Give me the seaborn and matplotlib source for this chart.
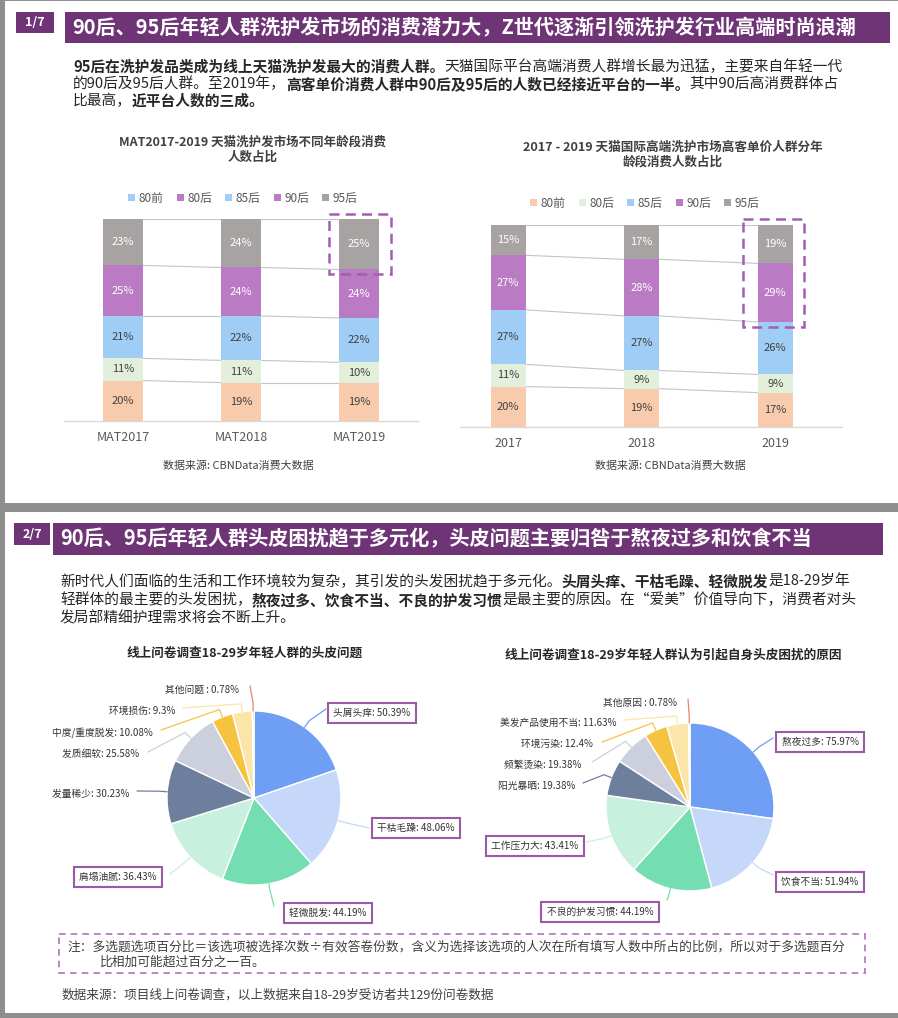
import numpy as np
import pandas as pd
import matplotlib
matplotlib.use("Agg")
import matplotlib.pyplot as plt
import seaborn as sns
from matplotlib.patches import Rectangle, Patch

# ---- data -------------------------------------------------------------
AGE_GROUPS = ["80前", "80后", "85后", "90后", "95后"]          # bottom -> top
MAT_YEARS = ["MAT2017", "MAT2018", "MAT2019"]
MAT_SHARE = [[20, 19, 19],      # 80前
             [11, 11, 10],      # 80后
             [21, 22, 22],      # 85后
             [25, 24, 24],      # 90后
             [23, 24, 25]]      # 95后
HI_YEARS = ["2017", "2018", "2019"]
HI_SHARE = [[20, 19, 17],
            [11, 9, 9],
            [27, 27, 26],
            [27, 28, 29],
            [15, 17, 19]]

SCALP_ISSUES = ["头屑头痒", "干枯毛躁", "轻微脱发", "肩塌油腻", "发量稀少",
                "发质细软", "中度/重度脱发", "环境损伤", "其他问题 "]
SCALP_PCT = [50.39, 48.06, 44.19, 36.43, 30.23, 25.58, 10.08, 9.3, 0.78]
CAUSES = ["熬夜过多", "饮食不当", "不良的护发习惯", "工作压力大", "阳光暴晒",
          "频繁烫染", "环境污染", "美发产品使用不当", "其他原因 "]
CAUSE_PCT = [75.97, 51.94, 44.19, 43.41, 19.38, 19.38, 12.4, 11.63, 0.78]

# ---- style ------------------------------------------------------------
W, H = 898, 1018
PURPLE = "#6e3476"
BOX_EDGE = "#9b5aa8"
DASH = "#a45db0"
BAR_COLORS = ["#f8cbad", "#e2efda", "#a0cdf6", "#ba7bc4", "#a8a3a3"]
LEFT_LEGEND_COLORS = ["#a0cdf6", "#ba7bc4", "#a0cdf6", "#ba7bc4", "#a8a3a3"]
PIE_COLORS = ["#6f9ef5", "#c5d8fa", "#74ddb2", "#c8f0df", "#6e7f9e",
              "#cbd0dc", "#f5c33f", "#fce5a8", "#e8846a"]

sns.set_theme(style="white")
plt.rcParams["font.family"] = ["Noto Sans CJK SC", "DejaVu Sans"]
plt.rcParams["axes.unicode_minus"] = False

fig = plt.figure(figsize=(W / 100, H / 100), dpi=100)
fig.patch.set_facecolor("#8e8e8e")
R = fig.canvas.get_renderer()


def px_axes(x, y, w, h):
    return fig.add_axes([x / W, 1 - (y + h) / H, w / W, h / H])


bg = px_axes(0, 0, W, H)
bg.set_xlim(0, W); bg.set_ylim(H, 0); bg.axis("off"); bg.set_zorder(0)
ov = px_axes(0, 0, W, H)
ov.set_xlim(0, W); ov.set_ylim(H, 0); ov.axis("off"); ov.set_zorder(5)

# pages
bg.add_patch(Rectangle((5, 1), W + 5, 502, fc="white", ec="none", clip_on=False))
bg.add_patch(Rectangle((5, 512), W + 5, 501, fc="white", ec="none", clip_on=False))


def runs(x, y, parts, size, color="#262626", width=None):
    """draw a line of (text, bold) runs; optionally fit to a pixel width"""
    def measure(sz):
        tot = 0
        for s, b in parts:
            t = ov.text(0, 0, s, fontsize=sz, fontweight="bold" if b else "normal")
            tot += t.get_window_extent(R).width
            t.remove()
        return tot
    if width:
        size = size * width / measure(size)
    cx = x
    for s, b in parts:
        t = ov.text(cx, y, s, fontsize=size, fontweight="bold" if b else "normal",
                    color=color, ha="left", va="center")
        cx += t.get_window_extent(R).width
    return size


def header(tag, tag_box, bar, text, text_x, text_w):
    bx, by, bw, bh = tag_box
    ov.add_patch(Rectangle((bx, by), bw, bh, fc=PURPLE, ec="none"))
    ov.text(bx + bw / 2, by + bh / 2, tag, color="white", fontsize=9,
            fontweight="bold", ha="center", va="center")
    x, y, w, h = bar
    ov.add_patch(Rectangle((x, y), w, h, fc=PURPLE, ec="none"))
    runs(text_x, y + h / 2, [(text, True)], 14, color="white", width=text_w)


def centered_fit(x, y, text, size, width, color="#404040", bold=False):
    t = ov.text(0, 0, text, fontsize=size, fontweight="bold" if bold else "normal")
    size = size * width / t.get_window_extent(R).width
    t.remove()
    ov.text(x, y, text, fontsize=size, fontweight="bold" if bold else "normal",
            color=color, ha="center", va="center")


# ---- slide 1 ----------------------------------------------------------
header("1/7", (16, 12, 38, 21), (65, 12, 825, 31),
       "90后、95后年轻人群洗护发市场的消费潜力大，Z世代逐渐引领洗护发行业高端时尚浪潮", 72, 785)

PARA1 = [
    [("95后在洗护发品类成为线上天猫洗护发最大的消费人群。", True),
     ("天猫国际平台高端消费人群增长最为迅猛，主要来自年轻一代", False)],
    [("的90后及95后人群。至2019年，", False),
     ("高客单价消费人群中90后及95后的人数已经接近平台的一半。", True),
     ("其中90后高消费群体占", False)],
    [("比最高，", False), ("近平台人数的三成。", True)],
]
s1 = runs(73, 67, PARA1[0], 10, width=768)
runs(73, 84, PARA1[1], 10, width=764)
runs(73, 101, PARA1[2], s1)


def stacked(ax, years, share, width, legend_colors, legend_xy):
    vals = np.array(share, dtype=float)
    cum = np.cumsum(vals, axis=0)
    for k in reversed(range(len(AGE_GROUPS))):
        sns.barplot(x=years, y=cum[k], color=BAR_COLORS[k], width=width,
                    saturation=1, errorbar=None, linewidth=0, ax=ax)
    for k in range(len(AGE_GROUPS)):
        for i in range(len(years)):
            ax.text(i, cum[k, i] - vals[k, i] / 2, f"{int(vals[k, i])}%",
                    ha="center", va="center", fontsize=8,
                    color="white" if k >= 3 else "#404040")
            if i < len(years) - 1:
                ax.plot([i + width / 2, i + 1 - width / 2], [cum[k, i], cum[k, i + 1]],
                        color="#c4c4c4", lw=0.8, zorder=0.5)
    ax.set_ylim(0, 100)
    ax.set_yticks([])
    ax.set_xlabel(""); ax.set_ylabel("")
    for sp in ["top", "right", "left"]:
        ax.spines[sp].set_visible(False)
    ax.spines["bottom"].set_color("#d9d9d9")
    ax.spines["bottom"].set_linewidth(1)
    ax.tick_params(axis="x", length=0, pad=7, labelsize=9, labelcolor="#595959")
    ax.patch.set_alpha(0)
    handles = [Patch(facecolor=c, edgecolor="none") for c in legend_colors]
    fig.legend(handles, AGE_GROUPS, loc="center",
               bbox_to_anchor=(legend_xy[0] / W, 1 - legend_xy[1] / H),
               ncol=5, frameon=False, fontsize=8.5, handlelength=0.6,
               handleheight=0.6, handletextpad=0.3, columnspacing=1.1,
               labelcolor="#595959")


ax1 = px_axes(64, 219, 354, 202)
stacked(ax1, MAT_YEARS, MAT_SHARE, 0.34, LEFT_LEGEND_COLORS, (243, 198))
ax1.set_xlim(-0.5, 2.5)

ax2 = px_axes(460, 225, 382, 202)
stacked(ax2, HI_YEARS, HI_SHARE, 0.262, BAR_COLORS, (645, 203))
ax2.set_xlim(-0.36, 2.5)

centered_fit(253, 142, "MAT2017-2019 天猫洗护发市场不同年龄段消费", 9, 267, bold=True)
ov.text(253, 157, "人数占比", fontsize=9, fontweight="bold", color="#404040",
        ha="center", va="center")
centered_fit(673, 147, "2017 - 2019 天猫国际高端洗护市场高客单价人群分年", 9, 300, bold=True)
ov.text(673, 162, "龄段消费人数占比", fontsize=9, fontweight="bold", color="#404040",
        ha="center", va="center")
centered_fit(238, 466, "数据来源: CBNData消费大数据", 8, 150, color="#404040")
centered_fit(670, 466, "数据来源: CBNData消费大数据", 8, 150, color="#404040")

for (x, y, w, h) in [(329, 214, 62, 60), (743, 219, 61, 108)]:
    ov.add_patch(Rectangle((x, y), w, h, fill=False, ec=DASH, lw=1.8,
                           ls=(0, (4, 2.5))))

# ---- slide 2 ----------------------------------------------------------
header("2/7", (14, 523, 36, 22), (53, 523, 830, 32),
       "90后、95后年轻人群头皮困扰趋于多元化，头皮问题主要归咎于熬夜过多和饮食不当", 60, 756)

PARA2 = [
    [("新时代人们面临的生活和工作环境较为复杂，其引发的头发困扰趋于多元化。", False),
     ("头屑头痒、干枯毛躁、轻微脱发", True), ("是18-29岁年", False)],
    [("轻群体的最主要的头发困扰，", False), ("熬夜过多、饮食不当、不良的护发习惯", True),
     ("是最主要的原因。在“爱美”价值导向下，消费者对头", False)],
    [("发局部精细护理需求将会不断上升。", False)],
]
s2 = runs(60, 582, PARA2[0], 10, width=789)
runs(60, 600, PARA2[1], 10, width=795)
runs(60, 618, PARA2[2], s2)

centered_fit(245, 653, "线上问卷调查18-29岁年轻人群的头皮问题", 9, 236, color="#262626", bold=True)
centered_fit(673, 655, "线上问卷调查18-29岁年轻人群认为引起自身头皮困扰的原因", 9, 339,
             color="#262626", bold=True)

# label layout: text x, text y, align, line end x, line end y
PIE1_LAYOUT = [(372, 713, "center", 326, 709), (416, 828, "center", 369, 828),
               (328, 913, "center", 274, 906), (118, 877, "center", 170, 874),
               (129, 794, "right", 137, 791), (139, 754, "right", 148, 752),
               (153, 733, "right", 161, 730), (175, 711, "right", 183, 708),
               (239, 690, "right", 250, 686)]
PIE2_LAYOUT = [(820, 742, "center", 773, 738), (820, 882, "center", 773, 875),
               (600, 912, "center", 667, 900), (535, 846, "center", 586, 842),
               (575, 786, "right", 583, 783), (581, 765, "right", 592, 762),
               (593, 744, "right", 602, 742), (616, 723, "right", 624, 720),
               (677, 703, "right", 688, 699)]


def pie(names, pct, cx, cy, rad, layout, n_boxed=4):
    ax = px_axes(cx - rad, cy - rad, 2 * rad, 2 * rad)
    ax.pie(pct, colors=PIE_COLORS, startangle=90, counterclock=False,
           wedgeprops=dict(edgecolor="white", linewidth=1))
    ax.set_xlim(-1, 1); ax.set_ylim(-1, 1); ax.set_aspect("equal")
    ax.patch.set_alpha(0)
    v = np.array(pct)
    mid = 90 - 360 * (np.cumsum(v) - v / 2) / v.sum()
    for i, (name, p) in enumerate(zip(names, pct)):
        tx, ty, ha, ex, ey = layout[i]
        th = np.deg2rad(mid[i])
        x0, y0 = cx + rad * np.cos(th), cy - rad * np.sin(th)
        x1, y1 = cx + (rad + 8) * np.cos(th), cy - (rad + 8) * np.sin(th)
        ov.plot([x0, x1, ex], [y0, y1, ey], color=PIE_COLORS[i], lw=0.9)
        label = f"{name}: {p:g}%"
        if i < n_boxed:
            ov.text(tx, ty, label, fontsize=7, color="#333333", ha="center", va="center",
                    bbox=dict(boxstyle="square,pad=0.55", fc="white", ec=BOX_EDGE, lw=1.5))
        else:
            ov.text(tx, ty, label, fontsize=7, color="#333333", ha=ha, va="center")


pie(SCALP_ISSUES, SCALP_PCT, 254, 798, 87, PIE1_LAYOUT)
pie(CAUSES, CAUSE_PCT, 690, 807, 84, PIE2_LAYOUT)

# note box and source
ov.add_patch(Rectangle((59, 934), 806, 39, fill=False, ec="#b071bd", lw=1.2,
                       ls=(0, (4, 3))))
s3 = runs(67, 947, [("注：多选题选项百分比＝该选项被选择次数÷有效答卷份数，含义为选择该选项的人次在所有填写人数中所占的比例，所以对于多选题百分", False)],
          8, color="#404040", width=781)
runs(100, 962, [("比相加可能超过百分之一百。", False)], s3, color="#404040")
runs(62, 995, [("数据来源：项目线上问卷调查，以上数据来自18-29岁受访者共129份问卷数据", False)],
     8, color="#404040", width=435)

fig.savefig("out.png", dpi=100)
